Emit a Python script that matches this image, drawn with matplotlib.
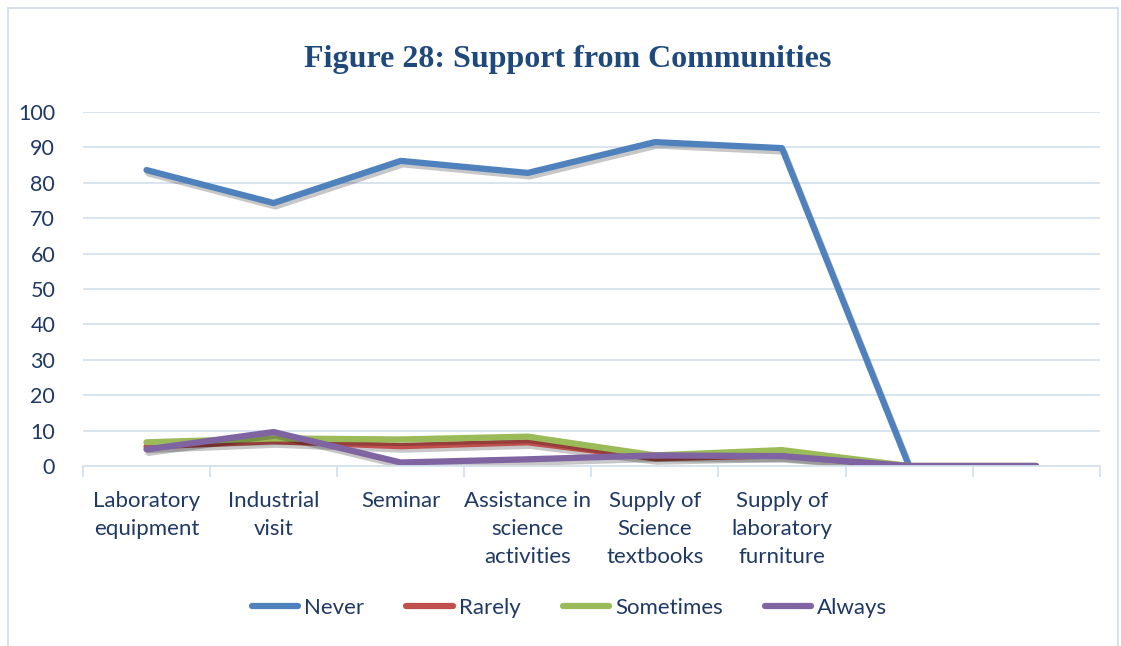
import matplotlib.pyplot as plt
import matplotlib.patheffects as pe
from matplotlib.patches import Rectangle

categories = ["Laboratory\nequipment", "Industrial\nvisit", "Seminar",
              "Assistance in\nscience\nactivities", "Supply of\nScience\ntextbooks",
              "Supply of\nlaboratory\nfurniture", "", ""]
never = [83.6, 74.3, 86.2, 82.8, 91.5, 89.8, 0, 0]
rarely = [5.5, 7.0, 5.6, 6.7, 2.2, 3.0, 0, 0]
sometimes = [6.7, 7.8, 7.5, 8.3, 3.0, 4.5, 0, 0]
always = [4.7, 9.6, 1.0, 1.9, 3.0, 2.8, 0, 0]

series = [("Never", never, "#4F81BD"), ("Rarely", rarely, "#C0504D"),
          ("Sometimes", sometimes, "#9BBB59"), ("Always", always, "#8064A2")]

txt = "#1F3864"
plt.rcParams['font.family'] = ['Lato', 'DejaVu Sans']

fig = plt.figure(figsize=(11.21, 6.46), dpi=100)
fig.patches.append(Rectangle((0.007, -0.01), 0.99, 0.998, transform=fig.transFigure,
                             fill=False, edgecolor="#D0DCEA", linewidth=1.2))
ax = fig.add_axes([0.074, 0.2786, 0.907, 0.548])

x = list(range(len(categories)))
for name, vals, col in series:
    ax.plot(x, vals, color=col, linewidth=4.5, label=name, solid_capstyle='round',
            solid_joinstyle='round',
            path_effects=[pe.SimpleLineShadow(offset=(1.5, -2.5), alpha=0.22, shadow_color='black'),
                          pe.Normal()])

ax.set_xlim(-0.5, len(categories) - 0.5)
ax.set_ylim(0, 100)
ax.set_yticks(range(0, 101, 10))
ax.grid(axis='y', color="#D6E2F0", linewidth=1.3)
ax.set_axisbelow(True)
for s in ['top', 'right', 'left']:
    ax.spines[s].set_visible(False)
ax.spines['bottom'].set_color("#D6E2F0")
ax.spines['bottom'].set_linewidth(1.3)

ax.set_xticks([i - 0.5 for i in range(len(categories) + 1)])
ax.set_xticklabels([])
ax.set_xticks(x, minor=True)
ax.set_xticklabels(categories, minor=True, fontsize=16, color=txt, va='top',
                   linespacing=1.5)
ax.tick_params(axis='x', which='major', length=8, color="#D6E2F0", width=1.3)
ax.tick_params(axis='x', which='minor', length=0, pad=18)
ax.tick_params(axis='y', length=0, labelsize=15.5, labelcolor=txt, pad=20)

fig.text(0.506, 0.908, "Figure 28: Support from Communities", ha='center', va='center',
         fontsize=23, fontweight='bold', color="#1F497D", family='Liberation Serif')

leg = fig.legend(loc='center', bbox_to_anchor=(0.508, 0.059), ncol=4, frameon=False,
                 fontsize=16, handlelength=2.1, columnspacing=1.9, handletextpad=0.25)
for t in leg.get_texts():
    t.set_color(txt)
for h in leg.get_lines():
    h.set_path_effects([])

fig.savefig("out.png", dpi=100)
